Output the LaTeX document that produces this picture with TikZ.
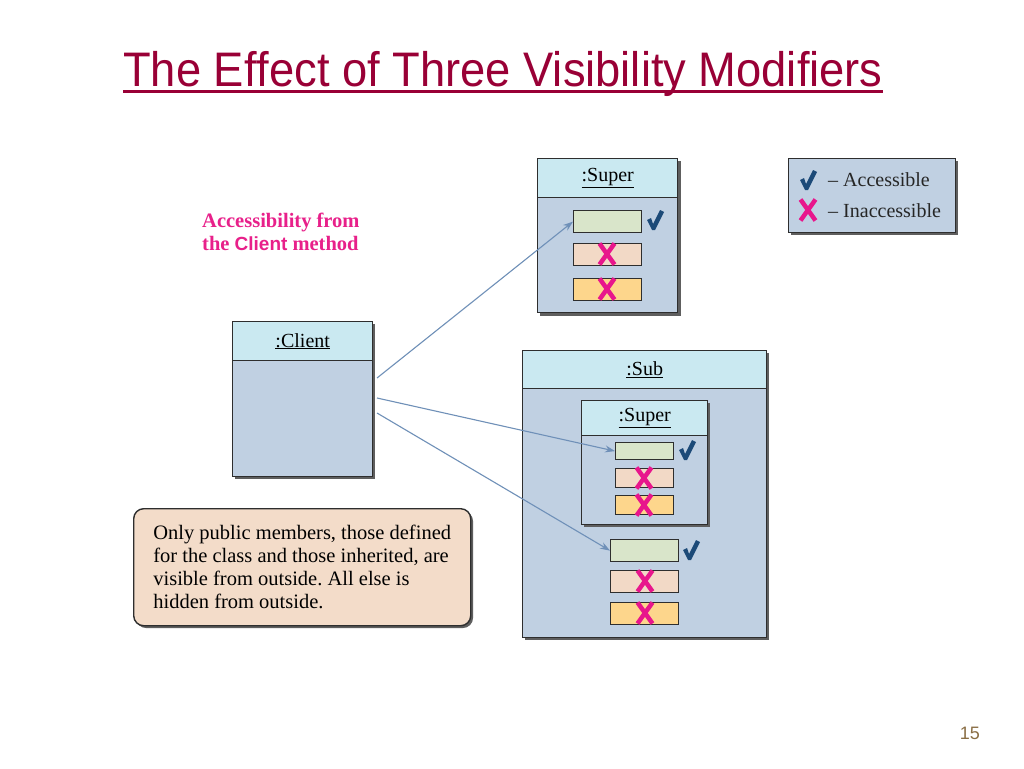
\documentclass[tikz,border=0pt]{standalone}
\usepackage{fontspec}
\setmainfont{Liberation Serif}
\newfontfamily\arialf[Ligatures=NoCommon]{Liberation Sans}
\usetikzlibrary{arrows.meta}
\definecolor{titlec}{HTML}{990036}
\definecolor{hdrc}{HTML}{CAE9F1}
\definecolor{bodyc}{HTML}{C0D0E2}
\definecolor{edgec}{HTML}{2E2E2E}
\definecolor{shadc}{HTML}{5E5E5E}
\definecolor{pubc}{HTML}{D9E5CA}
\definecolor{protc}{HTML}{F2D9C6}
\definecolor{privc}{HTML}{FDD68C}
\definecolor{xc}{HTML}{E8168C}
\definecolor{chkc}{HTML}{1C4A78}
\definecolor{notec}{HTML}{F3DCC9}
\definecolor{arrc}{HTML}{6F90B8}
\definecolor{pinkc}{HTML}{E8208A}
\definecolor{numc}{HTML}{8A6E45}
\frenchspacing
\tikzset{
  chkmark/.pic={\fill[chkc] (-8,0) -- (-4,-2) -- (-2,4) -- (5,-10) -- (9,-8) -- (0,10) -- (-3,10) -- cycle;},
  crossmk/.pic={\draw[xc, line width=4.5pt] (-7.5,-10.5) -- (7.5,10.5) (7.5,-10.5) -- (-7.5,10.5);}
}
\begin{document}
\begin{tikzpicture}[x=1pt,y=-1pt,
  box/.style={draw=edgec, line width=1.4pt, inner sep=0pt, anchor=north west},
  hdr/.style={box, fill=hdrc, font=\fontsize{20}{22}\selectfont},
  body/.style={box, fill=bodyc},
  mem/.style={box, line width=1.2pt},
  pub/.style={mem, fill=pubc},
  prot/.style={mem, fill=protc},
  priv/.style={mem, fill=privc},
  conn/.style={draw=arrc, line width=1.1pt, -{Stealth[length=10pt,width=7pt,fill=arrc]}},
  pinktext/.style={text=pinkc, inner sep=0pt, anchor=base west, font=\fontsize{20.5}{23}\selectfont\bfseries},
  legtext/.style={inner sep=0pt, anchor=base west, text=black!85, font=\fontsize{20}{22}\selectfont},
]
\useasboundingbox (0,0) rectangle (1024,768);
\fill[white] (0,0) rectangle (1024,768);

% title
\node[inner sep=0pt, anchor=base west, text=titlec, font=\arialf\fontsize{45.3}{50}\selectfont] (title) at (123,86) {\scalebox{1}[1.07]{The E\mbox{f}\mbox{f}ect of Three Visibility Modifiers}};
\draw[titlec, line width=3pt] ([yshift=-5.5pt]title.base west) -- ([yshift=-5.5pt]title.base east);

% shadows
\fill[shadc] (540,161) rectangle (681,316);
\fill[shadc] (791,161) rectangle (958,235);
\fill[shadc] (235,324) rectangle (375,479);
\fill[shadc] (525,353) rectangle (769,640);
\fill[shadc, rounded corners=10pt] (136,511) rectangle (473,628);

% Super (top)
\node[hdr, minimum width=140pt, minimum height=39pt] (supH) at (537,158) {\underline{:Super}};
\node[body, minimum width=140pt, minimum height=115pt] (supB) at (537,197) {};
\node[pub,  minimum width=68pt, minimum height=22pt] (supG) at (573,210) {};
\node[prot, minimum width=68pt, minimum height=22pt] (supP) at (573,243) {};
\node[priv, minimum width=68pt, minimum height=22pt] (supO) at (573,278) {};
\pic at (655,220) {chkmark};
\pic at (607,254) {crossmk};
\pic at (607,289) {crossmk};

% legend
\node[body, minimum width=167pt, minimum height=74pt] (leg) at (788,158) {};
\pic at (808,180) {chkmark};
\pic at (808,210) {crossmk};
\node[legtext] (legA) at (828,186) {– Accessible};
\node[legtext] (legI) at (828,217) {– Inaccessible};

% pink caption
\node[pinktext] (acc1) at (202,227) {Accessibility from};
\node[pinktext] (acc2) at (202,250) {the {\arialf\bfseries\fontsize{19}{23}\selectfont Client} method};

% Client
\node[hdr, minimum width=140pt, minimum height=39pt] (cliH) at (232,321) {\underline{:Client}};
\node[body, minimum width=140pt, minimum height=116pt] (cliB) at (232,360) {};
\coordinate (s1) at (377,378);
\coordinate (s2) at (377,398);
\coordinate (s3) at (377,413);

% Sub
\node[hdr, minimum width=244pt, minimum height=38pt] (subH) at (522,350) {\underline{:Sub}};
\node[body, minimum width=244pt, minimum height=249pt] (subB) at (522,388) {};
\fill[shadc] (584,403) rectangle (710,527);
\node[hdr, minimum width=126pt, minimum height=35pt] (isupH) at (581,400) {\underline{:Super}};
\node[body, minimum width=126pt, minimum height=89pt] (isupB) at (581,435) {};
\node[pub,  minimum width=58pt, minimum height=17pt] (isupG) at (615,442) {};
\node[prot, minimum width=58pt, minimum height=19pt] (isupP) at (615,468) {};
\node[priv, minimum width=58pt, minimum height=19pt] (isupO) at (615,495) {};
\pic at (687,450) {chkmark};
\pic at (644,478) {crossmk};
\pic at (644,505) {crossmk};
\node[pub,  minimum width=68pt, minimum height=22pt] (subG) at (610,539) {};
\node[prot, minimum width=68pt, minimum height=22pt] (subP) at (610,570) {};
\node[priv, minimum width=68pt, minimum height=22pt] (subO) at (610,602) {};
\pic at (691,550) {chkmark};
\pic at (645,581) {crossmk};
\pic at (645,613) {crossmk};

% connectors
\draw[conn] (s1) -- (supG.west);
\draw[conn] (s2) -- (isupG.west);
\draw[conn] (s3) -- (subG.west);

% note
\node[box, fill=notec, rounded corners=10pt, minimum width=337pt, minimum height=117pt, align=left, font=\fontsize{20.5}{23}\selectfont] (note) at (133,508)
 {Only public members, those defined\\for the class and those inherited, are\\visible from outside. All else is\\hidden from outside.};

% page number
\node[inner sep=0pt, anchor=base east, text=numc, font=\arialf\fontsize{18}{20}\selectfont] (pg) at (980,739) {15};
\end{tikzpicture}
\end{document}
